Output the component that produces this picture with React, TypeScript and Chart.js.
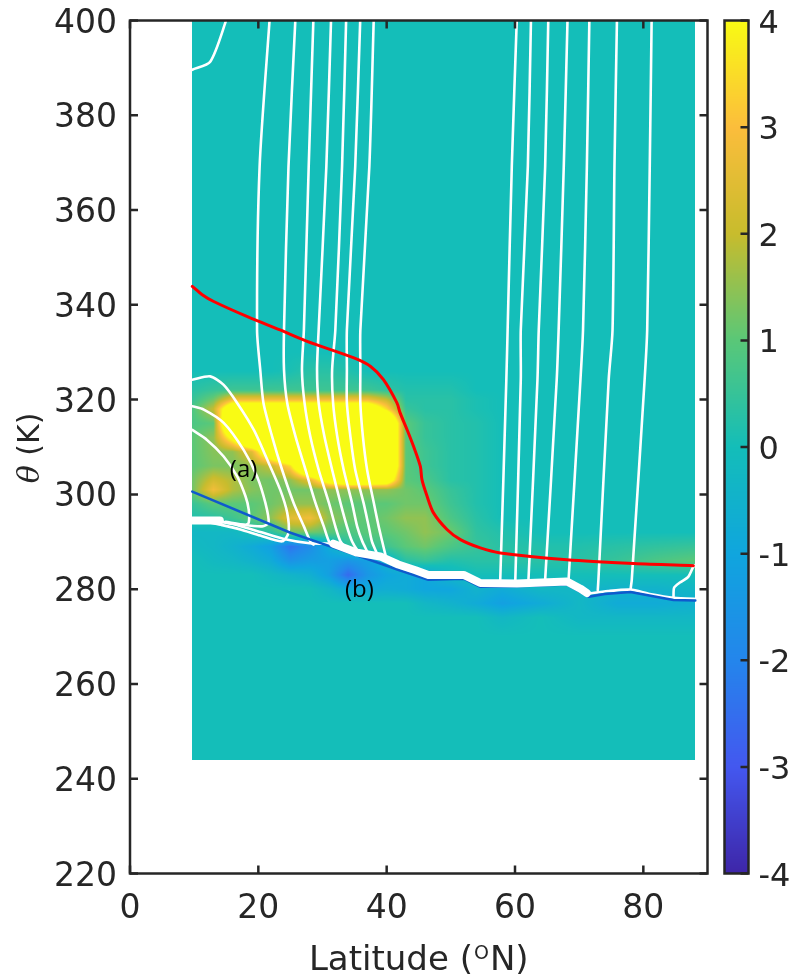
import React, { useEffect, useRef } from "react";
import { Chart, registerables } from "chart.js";

Chart.register(...registerables);

// ---- axes ----
const latTicks = [0, 20, 40, 60, 80];
const thetaTicks = [220, 240, 260, 280, 300, 320, 340, 360, 380, 400];
const cbTicks = [-4, -3, -2, -1, 0, 1, 2, 3, 4];

// ---- extent of the shaded field (lat, theta) ----
const fieldLat = [9.7, 88.1];
const fieldTheta = [244, 400];

// ---- shaded anomaly field on a lat x theta grid (values outside the grid are 0) ----
const gridLat = [9.7, 13, 16, 19, 22, 25, 28, 31, 34, 37, 40, 43, 46, 50, 54, 58, 64, 70, 76, 82, 88.1];
const gridTheta = [330, 326, 322, 320, 318, 315, 312, 309, 306, 303, 301, 298, 295, 292, 289, 286, 283, 280, 277, 274, 270];
const gridValues = [
  [0, 0, 0, 0, 0, 0, 0, 0, 0, 0, 0, 0, 0, 0, 0, 0, 0, 0, 0, 0, 0],
  [0, 0, 0, 0, 0, 0.1, 0.3, 0.3, 0.2, 0, 0, 0, 0, 0, 0, 0, 0, 0, 0, 0, 0],
  [0.3, 0.5, 0.6, 0.6, 0.6, 0.6, 0.6, 0.6, 0.6, 0.6, 0.4, 0.2, 0.2, 0.2, 0, 0, 0, 0, 0, 0, 0],
  [0.5, 1.2, 2.8, 2.8, 2.8, 2.8, 2.8, 2.8, 2.8, 2.8, 2.0, 0.3, 0.3, 0.3, 0.1, 0, 0, 0, 0, 0, 0],
  [0.8, 2.0, 6, 6, 6, 6, 6, 6, 6, 6, 3.5, 0.5, 0.3, 0.3, 0.1, 0, 0, 0, 0, 0, 0],
  [0.8, 1.0, 8, 8, 8, 8, 8, 8, 8, 8, 8, 1.0, 0.5, 0.3, 0.2, 0, 0, 0, 0, 0, 0],
  [1.0, 1.5, 4.5, 8, 8, 8, 8, 8, 8, 8, 8, 1.0, 0.5, 0.3, 0.2, 0, 0, 0, 0, 0, 0],
  [1.0, 1.4, 1.5, 2.5, 6, 8, 8, 8, 8, 8, 8, 1.0, 0.6, 0.3, 0.2, 0, 0, 0, 0, 0, 0],
  [1.0, 1.3, 1.3, 1.5, 2.0, 3.5, 8, 8, 8, 8, 8, 1.0, 0.6, 0.3, 0.2, 0, 0, 0, 0, 0, 0],
  [1.2, 2.2, 1.8, 1.3, 1.2, 1.5, 2.5, 5, 6, 6, 5.5, 1.0, 0.8, 0.3, 0.2, 0, 0, 0, 0, 0, 0],
  [1.2, 2.8, 1.8, 1.4, 1.2, 1.2, 1.2, 1.5, 1.5, 1.5, 1.5, 1.2, 1.0, 0.5, 0.2, 0, 0, 0, 0, 0, 0],
  [0.5, 1.0, 1.0, 1.0, 1.2, 1.5, 1.5, 1.2, 1.0, 1.0, 1.0, 1.2, 1.2, 0.6, 0.2, 0, 0, 0, 0, 0, 0],
  [0.2, 0.3, 0.6, 1.0, 1.5, 2.5, 2.8, 1.5, 1.2, 1.0, 1.2, 1.5, 1.5, 0.8, 0.3, 0, 0, 0, 0, 0, 0],
  [-0.3, -0.3, -0.3, 0, 0.3, 1.2, 1.2, 1.0, 0.8, 1.0, 1.0, 1.2, 1.5, 1.2, 0.4, 0.2, 0, 0, 0, 0, 0],
  [-0.2, -0.3, -0.5, -0.8, -1.2, -2.4, -1.8, -0.8, 0.3, 0.5, 0.6, 1.0, 1.2, 0.8, 0.5, 0.3, 0.2, 0.2, 0.3, 0.4, 0.5],
  [0, -0.2, -0.3, -0.5, -0.8, -1.6, -1.3, -1.2, -1.5, -1.2, -0.5, 0.3, 0.5, 0.2, 0.3, 0.3, 0.3, 0.3, 0.5, 0.8, 1.0],
  [0, 0, 0, 0, -0.2, -0.4, -0.6, -1.2, -2.6, -1.5, -1.0, -0.8, -1.0, -0.3, 0, 0, 0, 0, 0, 0, 0],
  [0, 0, 0, 0, 0, 0, 0, -0.3, -0.8, -0.8, -0.7, -0.8, -1.0, -1.0, -0.5, -0.8, -0.3, -0.3, -0.5, -0.5, -0.3],
  [0, 0, 0, 0, 0, 0, 0, 0, 0, 0, 0, 0, -0.3, -0.5, -0.8, -1.2, -0.8, -0.3, -0.8, -0.8, -0.6],
  [0, 0, 0, 0, 0, 0, 0, 0, 0, 0, 0, 0, 0, 0, 0, -0.3, 0, -0.3, -0.3, -0.3, -0.3],
  [0, 0, 0, 0, 0, 0, 0, 0, 0, 0, 0, 0, 0, 0, 0, 0, 0, 0, 0, 0, 0],
];

// ---- colormap (parula-like) ----
const cmapStops = [0, 0.125, 0.25, 0.375, 0.5, 0.625, 0.75, 0.875, 1];
const cmapColors = [
  [62, 38, 168],
  [68, 88, 240],
  [36, 134, 236],
  [16, 166, 222],
  [20, 190, 185],
  [90, 200, 120],
  [200, 188, 45],
  [252, 190, 60],
  [249, 251, 20],
];
const cmapMin = -4;
const cmapMax = 4;

// ---- white contours [lat, theta] ----
const contourTopLeft = [[9.7, 389.6], [12.5, 391.3], [14.9, 399.7], [15.0, 401]];
const contourL1 = [[21.8, 401], [20.2, 369.2], [19.8, 334.7], [20.3, 326.3], [20.8, 319.3], [22.15, 312.2], [23.7, 305.2], [25.5, 298.2], [27.1, 293.25], [28.1, 290.1], [28.6, 289.4]];
const contourL2 = [[25.8, 401], [24.7, 369.2], [24.0, 334.7], [24.0, 326.3], [24.5, 319.3], [25.8, 312.2], [27.35, 305.2], [28.9, 298.2], [30.2, 293.25], [31.0, 290.1], [31.7, 289.4]];
const contourL3 = [[28.6, 401], [27.85, 369.2], [27.1, 334.7], [26.8, 326.3], [27.2, 319.3], [28.1, 312.2], [29.4, 305.2], [31.0, 298.2], [32.0, 293.25], [32.8, 290.1], [33.8, 288.5]];
const contourL4 = [[31.35, 401], [30.6, 369.2], [29.4, 334.7], [29.15, 326.3], [29.4, 319.3], [30.3, 312.2], [31.5, 305.2], [32.8, 298.2], [33.8, 293.25], [34.6, 290.1], [35.4, 288.2]];
const contourL5 = [[33.7, 401], [33.05, 369.2], [32.0, 334.7], [31.5, 326.3], [31.65, 319.3], [32.3, 312.2], [33.3, 305.2], [34.6, 298.2], [35.4, 293.25], [36.2, 290.1], [36.95, 288.0]];
const contourL6 = [[35.9, 401], [35.1, 369.2], [33.8, 334.7], [33.8, 326.3], [33.8, 319.3], [34.35, 312.2], [35.1, 305.2], [36.4, 298.2], [37.2, 293.25], [37.7, 290.1], [38.5, 287.5]];
const contourL7 = [[38.0, 401], [37.3, 369.2], [35.9, 334.7], [35.9, 326.3], [35.9, 319.3], [36.3, 312.2], [36.95, 305.2], [38.0, 298.2], [38.75, 293.25], [39.3, 290.1], [39.8, 287.3]];
const contourC1 = [[9.7, 324.2], [12.5, 324.9], [14.6, 323.1], [16.7, 319.3], [19.3, 313.6], [21.4, 307.3], [23.4, 301.0], [24.5, 296.1], [24.7, 291.9], [23.7, 290.1], [20.3, 291.3], [17.2, 292.6], [14.1, 293.6], [12.0, 294.2]];
const contourC2 = [[9.7, 318.6], [11.5, 317.9], [14.6, 315.1], [17.7, 309.4], [19.8, 303.8], [21.1, 298.2], [21.6, 294.0], [20.6, 293.25], [17.2, 293.6], [14.1, 294.2]];
const contourC3 = [[9.7, 313.6], [12.0, 311.5], [14.6, 308.0], [16.7, 303.8], [18.0, 299.6], [18.5, 296.8], [18.5, 294.0], [18.0, 293.6], [14.9, 294.2]];
const contourR1 = [[60.3, 401], [59.5, 369.2], [58.85, 334.7], [58.65, 324.2], [57.7, 282.0], [57.6, 281.3]];
const contourR2 = [[62.5, 401], [62.0, 369.2], [60.9, 334.7], [60.9, 324.2], [60.05, 282.0], [60.0, 281.3]];
const contourR3 = [[65.2, 401], [64.7, 369.2], [63.7, 334.7], [63.5, 324.2], [62.1, 282.0], [62.0, 281.3]];
const contourR4 = [[68.2, 401], [67.6, 369.2], [66.8, 334.7], [66.5, 324.2], [64.7, 282.0], [64.6, 281.4]];
const contourR5 = [[71.6, 401], [71.2, 369.2], [70.6, 334.7], [70.2, 324.2], [68.35, 282.0], [68.3, 281.5]];
const contourR6 = [[75.9, 401], [75.5, 369.2], [75.2, 334.7], [74.6, 324.2], [73.0, 282.0], [72.9, 279.8]];
const contourR7 = [[81.3, 401], [81.0, 369.2], [80.6, 334.7], [80.2, 324.2], [78.2, 282.0], [78.0, 279.9]];
const contourNearSurface = [[13.9, 294.4], [17.0, 293.4], [20.5, 292.0], [24.0, 290.6], [28.0, 289.7], [31.7, 289.6]];
const contourSurfaceEast = [[71.2, 279.0], [74.5, 279.6], [78.0, 279.9], [81.0, 279.0], [84.7, 278.2], [89, 277.9]];
const contourPolarLoop = [[84.7, 278.2], [84.8, 280.3], [85.7, 281.4], [87.0, 282.6], [87.9, 284.9], [89, 285.6]];

// ---- ground surface (thick white) ----
const surfaceWest = [[9.0, 294.5], [14.0, 294.5]];
const surfaceEast = [[31.7, 289.6], [35.4, 287.7], [39.0, 286.9], [41.8, 285.2], [44.5, 284.0], [46.5, 283.0], [52.0, 283.0], [54.6, 281.3], [60.3, 281.2], [68.1, 281.6], [70.2, 280.1], [71.2, 279.2]];

// ---- blue line near the surface ----
const blueLine = [[9.7, 300.6], [25.0, 291.9], [32.8, 288.3], [36.0, 286.8], [42.0, 284.0], [46.5, 282.0], [52.0, 282.2], [54.6, 280.5], [60.3, 280.6], [68.1, 281.0], [70.2, 279.4], [71.5, 278.4], [74.0, 279.0], [78.0, 279.4], [84.7, 277.7], [88.1, 277.6]];

// ---- red line (tropopause) ----
const redLine = [[9.7, 343.9], [11.2, 342.2], [13.05, 340.7], [18.3, 337.5], [23.4, 334.7], [27.6, 332.3], [34.9, 328.8], [37.5, 327.0], [39.5, 324.2], [41.6, 319.3], [42.1, 317.2], [43.2, 313.6], [44.2, 310.1], [45.25, 305.9], [45.5, 303.1], [46.3, 299.6], [47.3, 296.1], [49.4, 292.6], [51.5, 290.45], [54.6, 288.7], [57.7, 287.65], [68.1, 286.2], [78.5, 285.4], [87.8, 284.95]];

// ---- annotations ----
const annotationText = ["(a)", "(b)"];
const annotationLat = [17.7, 35.75];
const annotationTheta = [305.2, 279.7];

const AXIS_COLOR = "#262626";

function colorFor(v: number): number[] {
  let t = (v - cmapMin) / (cmapMax - cmapMin);
  if (t < 0) t = 0;
  if (t > 1) t = 1;
  let k = 0;
  while (k < cmapStops.length - 2 && t > cmapStops[k + 1]) k++;
  const f = (t - cmapStops[k]) / (cmapStops[k + 1] - cmapStops[k]);
  const a = cmapColors[k];
  const b = cmapColors[k + 1];
  return [a[0] + (b[0] - a[0]) * f, a[1] + (b[1] - a[1]) * f, a[2] + (b[2] - a[2]) * f];
}

function sampleField(lat: number, th: number): number {
  const nT = gridTheta.length;
  if (th > gridTheta[0] || th < gridTheta[nT - 1]) return 0;
  const nL = gridLat.length;
  const la = Math.min(Math.max(lat, gridLat[0]), gridLat[nL - 1]);
  let i = 0;
  while (i < nL - 2 && la > gridLat[i + 1]) i++;
  let j = 0;
  while (j < nT - 2 && th < gridTheta[j + 1]) j++;
  const fx = (la - gridLat[i]) / (gridLat[i + 1] - gridLat[i]);
  const fy = (gridTheta[j] - th) / (gridTheta[j] - gridTheta[j + 1]);
  const v00 = gridValues[j][i];
  const v10 = gridValues[j][i + 1];
  const v01 = gridValues[j + 1][i];
  const v11 = gridValues[j + 1][i + 1];
  return (v00 * (1 - fx) + v10 * fx) * (1 - fy) + (v01 * (1 - fx) + v11 * fx) * fy;
}

const fieldPlugin = {
  id: "fieldShading",
  beforeDatasetsDraw(chart: any) {
    const { ctx, scales } = chart;
    const xs = scales.x;
    const ys = scales.y;
    const x0 = Math.round(xs.getPixelForValue(fieldLat[0]));
    const x1 = Math.round(xs.getPixelForValue(fieldLat[1]));
    const y0 = Math.round(ys.getPixelForValue(fieldTheta[1]));
    const y1 = Math.round(ys.getPixelForValue(fieldTheta[0]));
    const w = x1 - x0;
    const h = y1 - y0;
    if (w <= 0 || h <= 0) return;
    const off = document.createElement("canvas");
    off.width = w;
    off.height = h;
    const octx = off.getContext("2d")!;
    const img = octx.createImageData(w, h);
    const lats = new Float64Array(w);
    for (let px = 0; px < w; px++) lats[px] = xs.getValueForPixel(x0 + px + 0.5);
    for (let py = 0; py < h; py++) {
      const th = ys.getValueForPixel(y0 + py + 0.5);
      for (let px = 0; px < w; px++) {
        const c = colorFor(sampleField(lats[px], th));
        const o = (py * w + px) * 4;
        img.data[o] = c[0];
        img.data[o + 1] = c[1];
        img.data[o + 2] = c[2];
        img.data[o + 3] = 255;
      }
    }
    octx.putImageData(img, 0, 0);
    ctx.drawImage(off, x0, y0);
  },
};

const framePlugin = {
  id: "frameAndColorbar",
  afterDraw(chart: any) {
    const { ctx, chartArea: ca, scales } = chart;
    const xs = scales.x;
    const ys = scales.y;
    const cb = scales.cb;
    ctx.save();

    // annotations
    ctx.fillStyle = "#000";
    ctx.font = '24px "Open Sans"';
    ctx.textAlign = "center";
    ctx.textBaseline = "middle";
    annotationText.forEach((s, k) => {
      ctx.fillText(s, xs.getPixelForValue(annotationLat[k]), ys.getPixelForValue(annotationTheta[k]));
    });

    // box and inward ticks
    ctx.strokeStyle = AXIS_COLOR;
    ctx.lineWidth = 2.5;
    ctx.beginPath();
    for (const t of latTicks) {
      const px = xs.getPixelForValue(t);
      ctx.moveTo(px, ca.bottom);
      ctx.lineTo(px, ca.bottom - 8);
      ctx.moveTo(px, ca.top);
      ctx.lineTo(px, ca.top + 8);
    }
    for (const t of thetaTicks) {
      const py = ys.getPixelForValue(t);
      ctx.moveTo(ca.left, py);
      ctx.lineTo(ca.left + 8, py);
      ctx.moveTo(ca.right, py);
      ctx.lineTo(ca.right - 8, py);
    }
    ctx.stroke();
    ctx.strokeRect(ca.left, ca.top, ca.right - ca.left, ca.bottom - ca.top);

    // tick labels
    ctx.fillStyle = AXIS_COLOR;
    ctx.font = '33px "DejaVu Sans"';
    ctx.textBaseline = "alphabetic";
    ctx.textAlign = "center";
    for (const t of latTicks) ctx.fillText(String(t), xs.getPixelForValue(t), ca.bottom + 44.5);
    ctx.textAlign = "right";
    for (const t of thetaTicks) ctx.fillText(String(t), ca.left - 13, ys.getPixelForValue(t) + 12);

    // colorbar
    const cbL = ca.right + 17;
    const cbR = cbL + 24;
    const cbTop = Math.round(cb.getPixelForValue(cmapMax));
    const cbBot = Math.round(cb.getPixelForValue(cmapMin));
    for (let py = cbTop; py < cbBot; py++) {
      const c = colorFor(cb.getValueForPixel(py + 0.5));
      ctx.fillStyle = `rgb(${c[0] | 0},${c[1] | 0},${c[2] | 0})`;
      ctx.fillRect(cbL, py, cbR - cbL, 1);
    }
    ctx.strokeStyle = AXIS_COLOR;
    ctx.lineWidth = 2.5;
    ctx.strokeRect(cbL, cb.getPixelForValue(cmapMax), cbR - cbL, cb.getPixelForValue(cmapMin) - cb.getPixelForValue(cmapMax));
    ctx.beginPath();
    for (const t of cbTicks) {
      const py = cb.getPixelForValue(t);
      ctx.moveTo(cbR, py);
      ctx.lineTo(cbR - 8, py);
    }
    ctx.stroke();
    ctx.fillStyle = AXIS_COLOR;
    ctx.font = '32px "DejaVu Sans"';
    ctx.textAlign = "left";
    for (const t of cbTicks) ctx.fillText(String(t), cbR + 10, cb.getPixelForValue(t) + 12);

    // x-axis title with superscript
    const cx = (ca.left + ca.right) / 2;
    const baseY = 970;
    const mainFont = '34px "DejaVu Sans"';
    const supFont = '19px "DejaVu Sans"';
    ctx.font = mainFont;
    const p1 = "Latitude (";
    const p3 = "N)";
    const w1 = ctx.measureText(p1).width;
    const w3 = ctx.measureText(p3).width;
    ctx.font = supFont;
    const w2 = ctx.measureText("O").width + 2;
    let sx = cx - (w1 + w2 + w3) / 2;
    ctx.font = mainFont;
    ctx.fillText(p1, sx, baseY);
    sx += w1;
    ctx.font = supFont;
    ctx.fillText("O", sx + 1, baseY - 11);
    sx += w2;
    ctx.font = mainFont;
    ctx.fillText(p3, sx, baseY);

    // y-axis title
    ctx.save();
    ctx.translate(39, (ca.top + ca.bottom) / 2 + 1);
    ctx.rotate(-Math.PI / 2);
    const thFont = 'italic 30px "DejaVu Serif"';
    const kFont = '30px "DejaVu Sans"';
    ctx.font = thFont;
    const wt = ctx.measureText("\u03B8").width;
    ctx.font = kFont;
    const wk = ctx.measureText(" (K)").width;
    let tx = -(wt + wk) / 2;
    ctx.font = thFont;
    ctx.fillText("\u03B8", tx, 0);
    tx += wt;
    ctx.font = kFont;
    ctx.fillText(" (K)", tx, 0);
    ctx.restore();

    ctx.restore();
  },
};

function lineSet(points: number[][], color: string, width: number, order: number, tension = 0) {
  return {
    data: points.map(([a, b]) => ({ x: a, y: b })),
    showLine: true,
    borderColor: color,
    backgroundColor: color,
    borderWidth: width,
    pointRadius: 0,
    pointHoverRadius: 0,
    tension,
    order,
    clip: 0,
    borderJoinStyle: "round" as const,
    borderCapStyle: "round" as const,
  };
}

export default function App() {
  const ref = useRef<HTMLCanvasElement | null>(null);

  useEffect(() => {
    document.body.style.margin = "0";
    const canvas = ref.current;
    if (!canvas) return;
    const white = "#ffffff";
    const contours = [
      contourTopLeft, contourL1, contourL2, contourL3, contourL4, contourL5, contourL6, contourL7,
      contourC1, contourC2, contourC3, contourR1, contourR2, contourR3, contourR4, contourR5,
      contourR6, contourR7, contourNearSurface, contourSurfaceEast, contourPolarLoop,
    ];
    const datasets: any[] = [
      lineSet(redLine, "#ff0000", 3, 0, 0.3),
      lineSet(surfaceWest, white, 8, 1),
      lineSet(surfaceEast, white, 8, 1),
      lineSet(blueLine, "#0f5acd", 2.5, 2),
      ...contours.map((c) => lineSet(c, white, 2.6, 3, 0.25)),
    ];
    const chart = new Chart(canvas, {
      type: "scatter",
      data: { datasets },
      options: {
        animation: false,
        responsive: false,
        devicePixelRatio: 1,
        events: [],
        layout: { padding: { left: 130, right: 794 - 707.5, top: 20.5, bottom: 979 - 873.5 } },
        scales: {
          x: { type: "linear", min: 0, max: 90, display: false },
          y: { type: "linear", min: 220, max: 400, display: false },
          cb: { type: "linear", axis: "y", min: cmapMin, max: cmapMax, display: false },
        },
        plugins: { legend: { display: false }, tooltip: { enabled: false } },
      } as any,
      plugins: [fieldPlugin, framePlugin],
    });
    return () => chart.destroy();
  }, []);

  return (
    <div style={{ width: 794, height: 979, background: "#fff" }}>
      <canvas ref={ref} width={794} height={979} style={{ display: "block", width: 794, height: 979 }} />
    </div>
  );
}
